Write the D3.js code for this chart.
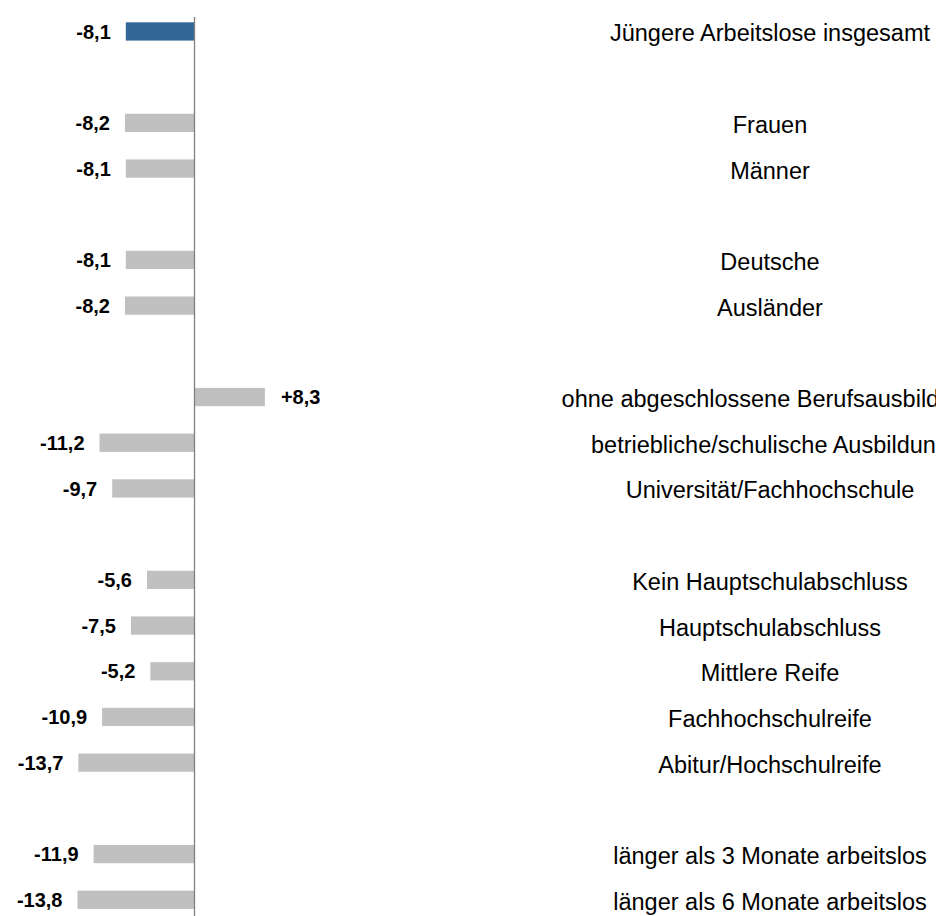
<!DOCTYPE html>
<html>
<head>
<meta charset="utf-8">
<script src="https://cdn.jsdelivr.net/npm/d3@7"></script>
<style>
  body { margin: 0; background: #fff; }
  svg { display: block; }
</style>
</head>
<body>
<div id="chart"></div>
<script>
// rows of the chart, null = empty spacer row between groups
var categories = [
  "Jüngere Arbeitslose insgesamt", null,
  "Frauen", "Männer", null,
  "Deutsche", "Ausländer", null,
  "ohne abgeschlossene Berufsausbildung", "betriebliche/schulische Ausbildung", "Universität/Fachhochschule", null,
  "Kein Hauptschulabschluss", "Hauptschulabschluss", "Mittlere Reife", "Fachhochschulreife", "Abitur/Hochschulreife", null,
  "länger als 3 Monate arbeitslos", "länger als 6 Monate arbeitslos"
];
var values = [
  -8.1, null,
  -8.2, -8.1, null,
  -8.1, -8.2, null,
  8.3, -11.2, -9.7, null,
  -5.6, -7.5, -5.2, -10.9, -13.7, null,
  -11.9, -13.8
];
var valueLabels = [
  "-8,1", null,
  "-8,2", "-8,1", null,
  "-8,1", "-8,2", null,
  "+8,3", "-11,2", "-9,7", null,
  "-5,6", "-7,5", "-5,2", "-10,9", "-13,7", null,
  "-11,9", "-13,8"
];

var width = 936, height = 916;

var svg = d3.select("#chart").append("svg")
  .attr("width", width)
  .attr("height", height);

var rows = categories.map(function (c, i) {
  return { i: i, cat: c, v: values[i], lab: valueLabels[i] };
});

var xScale = d3.scaleLinear()
  .domain([-20, 20])
  .range([194.5 - 169.6, 194.5 + 169.6]);

var yScale = d3.scaleBand()
  .domain(d3.range(categories.length))
  .range([8.6, 922.6])
  .paddingInner(0.6)
  .paddingOuter(0.3);

var data = rows.filter(function (d) { return d.v != null; });

// bars
svg.selectAll(".bar")
  .data(data)
  .enter().append("rect")
  .attr("class", "bar")
  .attr("x", function (d) { return xScale(Math.min(0, d.v)); })
  .attr("width", function (d) { return Math.abs(xScale(d.v) - xScale(0)); })
  .attr("y", function (d) { return yScale(d.i); })
  .attr("height", yScale.bandwidth())
  .attr("fill", function (d) { return d.i === 0 ? "#336699" : "#c0c0c0"; });

// zero line
svg.append("line")
  .attr("x1", xScale(0)).attr("x2", xScale(0))
  .attr("y1", 17).attr("y2", height)
  .attr("stroke", "#808080")
  .attr("stroke-width", 1.3);

// value labels
svg.selectAll(".val")
  .data(data)
  .enter().append("text")
  .attr("class", "val")
  .attr("x", function (d) { return d.v < 0 ? xScale(d.v) - 15 : xScale(d.v) + 16; })
  .attr("y", function (d) { return yScale(d.i) + yScale.bandwidth() / 2; })
  .attr("dy", "0.36em")
  .attr("text-anchor", function (d) { return d.v < 0 ? "end" : "start"; })
  .attr("font-family", "'Liberation Sans', Arial, sans-serif")
  .attr("font-weight", "bold")
  .attr("font-size", "20px")
  .attr("fill", "#000")
  .text(function (d) { return d.lab; });

// category labels (sit a little lower than the bar centre, as in the original)
svg.selectAll(".cat")
  .data(data)
  .enter().append("text")
  .attr("class", "cat")
  .attr("x", 770)
  .attr("y", function (d) { return yScale(d.i) + yScale.bandwidth() / 2 + 10; })
  .attr("text-anchor", "middle")
  .attr("font-family", "'Liberation Sans', Arial, sans-serif")
  .attr("font-size", "23.5px")
  .attr("fill", "#000")
  .text(function (d) { return d.cat; });
</script>
</body>
</html>
